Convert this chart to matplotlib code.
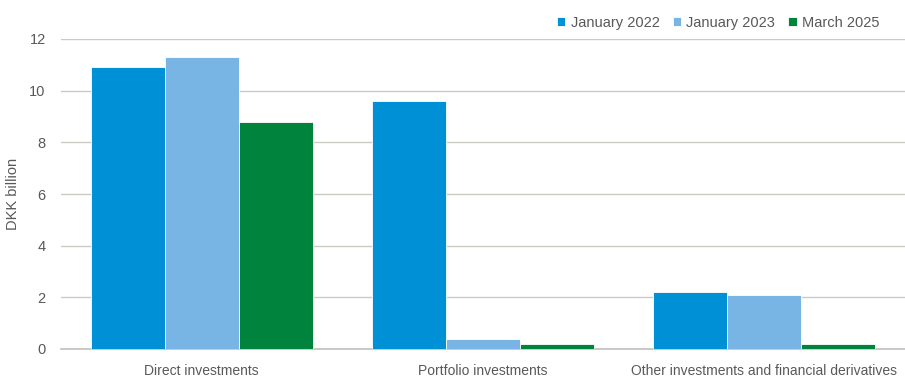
import matplotlib
matplotlib.use("Agg")
import matplotlib.pyplot as plt
from matplotlib import font_manager
import numpy as np

categories = ["Direct investments", "Portfolio investments", "Other investments and financial derivatives"]
series_names = ["January 2022", "January 2023", "March 2025"]
jan2022 = [10.9, 9.6, 2.2]
jan2023 = [11.3, 0.4, 2.1]
mar2025 = [8.8, 0.2, 0.2]
yticks = [0, 2, 4, 6, 8, 10, 12]
ylabel = "DKK billion"

colors = ["#0090d6", "#78b5e4", "#00843d"]

names = {f.name for f in font_manager.fontManager.ttflist}
fam = "Liberation Sans Narrow" if "Liberation Sans Narrow" in names else "Liberation Sans"
plt.rcParams["font.family"] = [fam, "DejaVu Sans"]
txtcol = "#595959"

fig = plt.figure(figsize=(9.05, 3.83), dpi=100)
ax = fig.add_axes([61/905, 1-349/383, 844/905, 310/383])

x = np.arange(len(categories))
w = 0.263
for i, (vals, name) in enumerate(zip([jan2022, jan2023, mar2025], series_names)):
    ax.bar(x + (i-1)*w, vals, width=w, color=colors[i], label=name,
           edgecolor="white", linewidth=0.6, zorder=3)

ax.set_xlim(-0.5, 2.5)
ax.set_ylim(0, 12)
ax.set_yticks(yticks)
ax.set_yticklabels([str(t) for t in yticks])
ax.set_xticks(x)
ax.set_xticklabels(categories)
ax.tick_params(axis="both", length=0, labelsize=10.5, colors=txtcol)
ax.tick_params(axis="y", pad=11)
ax.tick_params(axis="x", pad=11)
for lbl in ax.get_xticklabels():
    lbl.set_fontsize(10)
for s in ["top", "right", "left"]:
    ax.spines[s].set_visible(False)
ax.spines["bottom"].set_color("#c0c0bc")
ax.spines["bottom"].set_linewidth(1.2)
ax.yaxis.grid(True, color="#cbcbc3", linewidth=1, zorder=0)
ax.set_axisbelow(True)
ax.set_ylabel(ylabel, fontsize=10.5, color=txtcol)
ax.yaxis.set_label_coords(-41/844, 0.5)

fig.legend(loc="upper right", bbox_to_anchor=(890/905, 0.985), ncol=3, frameon=False,
           fontsize=10.5, handlelength=0.6, handleheight=0.6, handletextpad=0.35,
           columnspacing=0.9, labelcolor=txtcol, borderaxespad=0.3)

fig.savefig("out.png", dpi=100)
